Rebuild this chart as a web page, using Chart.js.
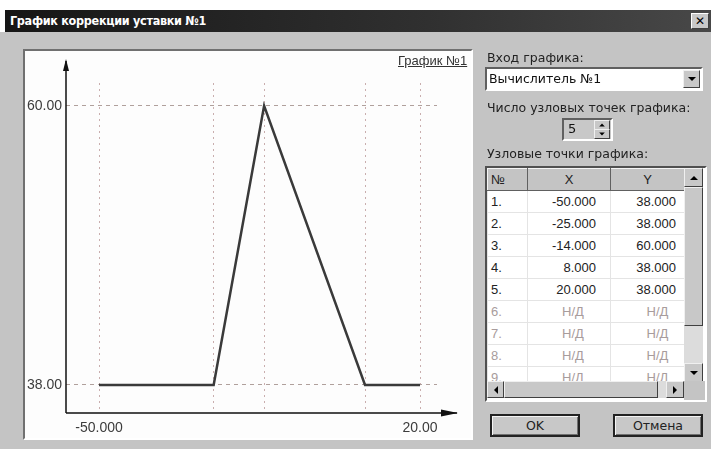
<!DOCTYPE html>
<html>
<head>
<meta charset="utf-8">
<script src="https://cdn.jsdelivr.net/npm/chart.js@4"></script>
<style>
  body { margin: 0; width: 711px; height: 449px; background: #fff; position: relative; overflow: hidden; font-family: 'Liberation Sans', Arial, sans-serif; }
  .dlg { position: absolute; left: 0; top: 32px; width: 711px; height: 417px; background: #c4c4c4; }
  .titlebar { position: absolute; left: 5px; top: 10px; right: 0; height: 22px; background: linear-gradient(to right, #161616, #303030 60%, #484848); }
  .titlebar span { position: absolute; left: 5px; top: 3px; color: #fff; font: bold 12.5px 'DejaVu Sans Condensed', 'DejaVu Sans', sans-serif; letter-spacing: -0.3px; }
  .closebtn { position: absolute; right: 2px; top: 3px; width: 16px; height: 14px; background: #c8c8c8; border: 1px solid; border-color: #fff #404040 #404040 #fff; font: bold 12px 'DejaVu Sans', sans-serif; text-align: center; line-height: 14px; color: #000; }
  .panel { position: absolute; left: 23px; top: 49px; width: 446px; height: 387px; background: #fdfdfd; border: 2px solid; border-color: #707070 #fff #fff #707070; }
  #chart1 { position: absolute; left: 26px; top: 52px; }
  .chartname { position: absolute; left: 398px; top: 53px; font-size: 13px; color: #333; text-decoration: underline; }
  .lbl { position: absolute; left: 487px; font: 12.5px 'DejaVu Sans', sans-serif; color: #222; }
  .combo { position: absolute; left: 485px; top: 67px; width: 214px; height: 20px; background: #fff; border: 2px solid; border-color: #606060 #fff #fff #606060; }
  .combo span { position: absolute; left: 2px; top: 2px; font: 12.5px 'DejaVu Sans', sans-serif; color: #111; }
  .btn3d { position: absolute; background: #c8c8c8; border: 1px solid; border-color: #f0f0f0 #404040 #404040 #f0f0f0; }
  .arrow-dn { width: 0; height: 0; border-left: 4px solid transparent; border-right: 4px solid transparent; border-top: 4px solid #000; position: absolute; left: 50%; top: 50%; margin-left: -4px; margin-top: -2px; }
  .arrow-up { width: 0; height: 0; border-left: 4px solid transparent; border-right: 4px solid transparent; border-bottom: 4px solid #000; position: absolute; left: 50%; top: 50%; margin-left: -4px; margin-top: -2px; }
  .arrow-l { width: 0; height: 0; border-top: 4px solid transparent; border-bottom: 4px solid transparent; border-right: 4px solid #000; position: absolute; left: 50%; top: 50%; margin-left: -2px; margin-top: -4px; }
  .arrow-r { width: 0; height: 0; border-top: 4px solid transparent; border-bottom: 4px solid transparent; border-left: 4px solid #000; position: absolute; left: 50%; top: 50%; margin-left: -2px; margin-top: -4px; }
  .spin { position: absolute; left: 562px; top: 118px; width: 47px; height: 19px; background: #c8c8c8; border: 2px solid; border-color: #606060 #fff #fff #606060; }
  .spin span { position: absolute; left: 4px; top: 1px; font: 13px 'DejaVu Sans', sans-serif; color: #111; }
  .grid { position: absolute; left: 485px; top: 166px; width: 218px; height: 232px; background: #fff; border: 2px solid; border-color: #505050 #fff #fff #505050; overflow: hidden; }
  .grid table { position: absolute; left: 0; top: 0; width: 197px; table-layout: fixed; border-collapse: collapse; font-size: 13px; color: #222; }
  .grid th { background: #c4c4c4; font-weight: normal; height: 21px; padding: 0; border: 1px solid; border-color: #f4f4f4 #606060 #606060 #f4f4f4; }
  .grid td { height: 21px; padding: 0; border: 1px solid #e4e4e4; white-space: nowrap; overflow: hidden; }
  .grid td.n { padding-left: 3px; text-align: left; }
  .grid td.x { padding-right: 14px; text-align: right; }
  .grid td.y { padding-right: 8px; text-align: right; }
  .grid td.na { color: #a89c9c; }
  .grid td.xna { text-align: center; padding: 0 0 0 8px; }
  .grid td.yna { text-align: center; padding: 0 0 0 20px; }
  .vscroll { position: absolute; left: 197px; top: 0; width: 19px; height: 214px; background: #dcdcdc; }
  .hscroll { position: absolute; left: 0; top: 213px; width: 197px; height: 17px; background: #dcdcdc; }
  .corner { position: absolute; left: 197px; top: 213px; width: 21px; height: 19px; background: #c4c4c4; }
  .pbtn { position: absolute; top: 414px; height: 19px; background: #c8c8c8; border: 2px solid #222; box-shadow: inset 1px 1px 0 #f4f4f4, inset -1px -1px 0 #707070; text-align: center; font: 12.5px 'DejaVu Sans', sans-serif; line-height: 19px; color: #222; }
</style>
</head>
<body>
<div class="dlg"></div>
<div class="titlebar"><span>График коррекции уставки №1</span><div class="closebtn">✕</div></div>

<div class="panel"></div>
<canvas id="chart1" width="445" height="386"></canvas>
<div class="chartname">График №1</div>

<div class="lbl" style="top:50px">Вход графика:</div>
<div class="combo"><span>Вычислитель №1</span>
  <div class="btn3d" style="right:1px;top:1px;width:15px;height:16px"><div class="arrow-dn"></div></div>
</div>
<div class="lbl" style="top:100px">Число узловых точек графика:</div>
<div class="spin"><span>5</span>
  <div class="btn3d" style="right:1px;top:0;width:14px;height:8px"><div class="arrow-up" style="transform:scale(0.7)"></div></div>
  <div class="btn3d" style="right:1px;top:9px;width:14px;height:8px"><div class="arrow-dn" style="transform:scale(0.7)"></div></div>
</div>
<div class="lbl" style="top:146px">Узловые точки графика:</div>

<div class="grid">
  <table id="table1"></table>
  <div class="vscroll">
    <div class="btn3d" style="left:0;top:0;width:17px;height:17px"><div class="arrow-up"></div></div>
    <div class="btn3d" style="left:0;top:19px;width:17px;height:137px"></div>
    <div class="btn3d" style="left:0;top:195px;width:17px;height:17px"><div class="arrow-dn"></div></div>
  </div>
  <div class="hscroll">
    <div class="btn3d" style="left:0;top:0;width:15px;height:15px"><div class="arrow-l"></div></div>
    <div class="btn3d" style="left:17px;top:0;width:152px;height:15px"></div>
    <div class="btn3d" style="left:179px;top:0;width:16px;height:15px"><div class="arrow-r"></div></div>
  </div>
  <div class="corner"></div>
</div>

<div class="pbtn" style="left:490px;width:86px">OK</div>
<div class="pbtn" style="left:613px;width:86px">Отмена</div>

<script>
// node points of the curve
const xValues = [-50, -25, -14, 8, 20];
const yValues = [38, 38, 60, 38, 38];
const xTickLabels = ['-50.000', '', '', '', '20.00'];
const yGridValues = [38, 60];
const yTickLabels = ['38.00', '60.00'];
const rowCount = 9;

document.addEventListener('DOMContentLoaded', () => {
  displayTable('table1');
  renderGraph('chart1');
});

// Table of node points, empty rows get Н/Д
function displayTable(tableId) {
  const table = document.getElementById(tableId);
  let html = '<colgroup><col style="width:40px"><col style="width:83px"><col style="width:74px"></colgroup>' +
    '<tr><th style="text-align:left;padding-left:3px">№</th><th>X</th><th>Y</th></tr>';
  for (let i = 0; i < rowCount; i++) {
    if (i < xValues.length) {
      html += '<tr><td class="n">' + (i + 1) + '.</td><td class="x">' + xValues[i].toFixed(3) +
        '</td><td class="y">' + yValues[i].toFixed(3) + '</td></tr>';
    } else {
      html += '<tr><td class="n na">' + (i + 1) + '.</td><td class="x na xna">Н/Д</td><td class="y na yna">Н/Д</td></tr>';
    }
  }
  table.innerHTML = html;
}

// axis lines with arrow heads
const arrowAxes = {
  id: 'arrowAxes',
  afterDatasetsDraw(chart) {
    const ctx = chart.ctx;
    const a = chart.chartArea;
    ctx.save();
    ctx.strokeStyle = '#111';
    ctx.fillStyle = '#111';
    ctx.lineWidth = 1.5;
    ctx.beginPath();
    ctx.moveTo(a.left, a.bottom);
    ctx.lineTo(a.left, a.top - 22);
    ctx.moveTo(a.left, a.bottom);
    ctx.lineTo(a.right + 20, a.bottom);
    ctx.stroke();
    // up arrow
    ctx.beginPath();
    ctx.moveTo(a.left, a.top - 24);
    ctx.lineTo(a.left - 3, a.top - 12);
    ctx.lineTo(a.left + 3, a.top - 12);
    ctx.closePath();
    ctx.fill();
    // right arrow
    ctx.beginPath();
    ctx.moveTo(a.right + 21, a.bottom);
    ctx.lineTo(a.right + 4, a.bottom - 3.5);
    ctx.lineTo(a.right + 4, a.bottom + 3.5);
    ctx.closePath();
    ctx.fill();
    ctx.restore();
  }
};

function renderGraph(canvasId) {
  const points = xValues.map((x, i) => ({ x: x, y: yValues[i] }));
  const tickFont = { family: 'Liberation Sans', size: 14 };

  const ctx = document.getElementById(canvasId).getContext('2d');
  new Chart(ctx, {
    type: 'line',
    data: {
      datasets: [{
        data: points,
        borderColor: '#3a3a3a',
        borderWidth: 2.5,
        pointRadius: 0,
        tension: 0,
        fill: false
      }]
    },
    options: {
      responsive: false,
      animation: false,
      layout: { padding: { top: 31, right: 34, left: 0, bottom: 0 } },
      plugins: { legend: { display: false }, tooltip: { enabled: false } },
      scales: {
        x: {
          type: 'linear',
          min: -57.2,
          max: 23.7,
          afterFit: s => { s.height = 25; },
          afterBuildTicks: s => { s.ticks = xValues.map(v => ({ value: v })); },
          grid: { color: '#c9aeae', lineWidth: 1, drawTicks: false },
          border: { display: false, dash: [2, 4] },
          ticks: {
            autoSkip: false,
            maxRotation: 0,
            padding: 7,
            color: '#3c3c3c',
            font: tickFont,
            callback: (v, i) => xTickLabels[i]
          }
        },
        y: {
          type: 'linear',
          min: 35.79,
          max: 61.79,
          afterFit: s => { s.width = 40; },
          afterBuildTicks: s => { s.ticks = yGridValues.map(v => ({ value: v })); },
          grid: { color: '#b0a09c', lineWidth: 1, drawTicks: false },
          border: { display: false, dash: [4, 4] },
          ticks: {
            padding: 4,
            color: '#3c3c3c',
            font: tickFont,
            callback: (v, i) => yTickLabels[i]
          }
        }
      }
    },
    plugins: [arrowAxes]
  });
}
</script>
</body>
</html>
